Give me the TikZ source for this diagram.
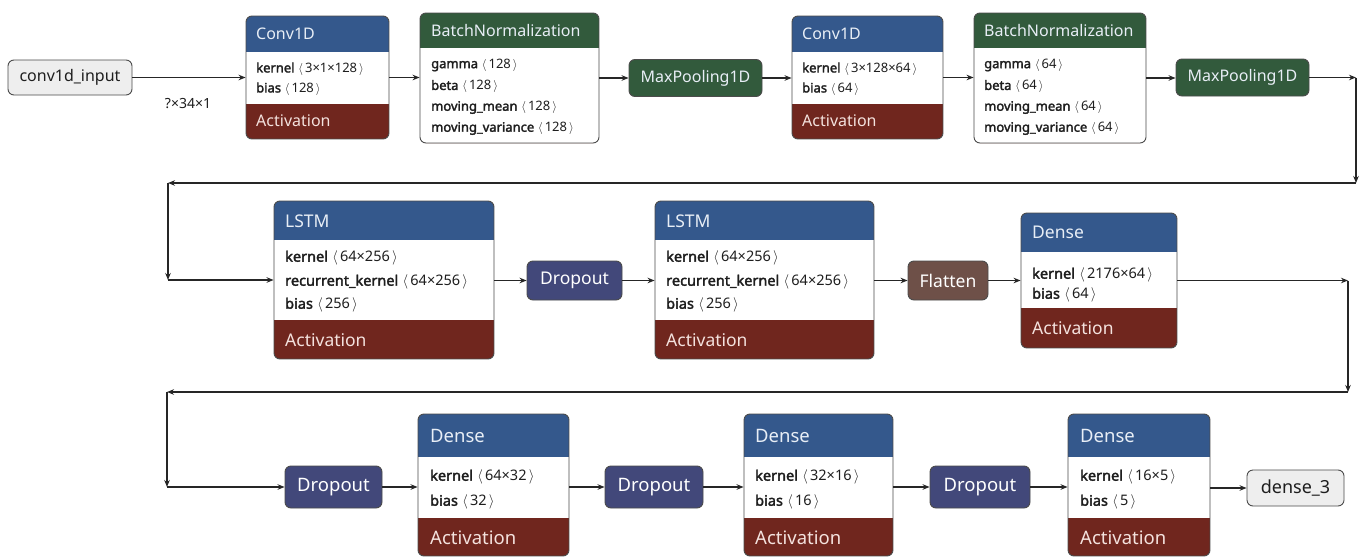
\documentclass[tikz,border=0pt]{standalone}
\usepackage{fontspec}
\setmainfont{Noto Sans}[AutoFakeBold=2.2]
\usetikzlibrary{arrows.meta,fit}
\definecolor{hblue}{RGB}{52,88,140}
\definecolor{hgreen}{RGB}{50,90,60}
\definecolor{actred}{RGB}{112,38,30}
\definecolor{dropc}{RGB}{66,72,122}
\definecolor{flatc}{RGB}{110,80,72}
\definecolor{iobg}{RGB}{238,238,238}
\definecolor{edgec}{RGB}{75,75,75}
\definecolor{htext}{RGB}{232,238,246}
\definecolor{atext}{RGB}{244,226,222}
\definecolor{btext}{RGB}{30,30,30}
\newcommand\myla{\hspace{0.3em}\ensuremath{\langle}\hspace{0.15em}}
\newcommand\myra{\hspace{0.15em}\ensuremath{\rangle}}
% #1 name, #2 x1, #3 y1, #4 x2, #5 y2, #6 header bottom, #7 activation top, #8 header colour
\newcommand\layerbox[8]{%
  \fill[white,rounded corners=6pt] (#2,#3) rectangle (#4,#5);
  \begin{scope}
    \clip[rounded corners=6pt] (#2,#3) rectangle (#4,#5);
    \fill[#8] (#2,#3) rectangle (#4,#6);
    \fill[actred] (#2,#7) rectangle (#4,#5);
  \end{scope}
  \node[fit={(#2,#3)(#4,#5)},inner sep=0pt,draw=edgec,line width=0.9pt,rounded corners=6pt] (#1) {};
}
\tikzset{
  t1/.style={anchor=west,inner sep=0pt,text=htext,font=\fontsize{16}{19}\selectfont},
  t2/.style={anchor=west,inner sep=0pt,text=htext,font=\fontsize{17.5}{21}\selectfont},
  t3/.style={anchor=west,inner sep=0pt,text=htext,font=\fontsize{18.5}{22}\selectfont},
  a1/.style={t1,text=atext},
  a2/.style={t2,text=atext},
  a3/.style={t3,text=atext},
  b1/.style={anchor=west,inner sep=0pt,text=btext,font=\fontsize{13}{15}\selectfont},
  b2/.style={anchor=west,inner sep=0pt,text=btext,font=\fontsize{14.5}{17}\selectfont},
  simple/.style={draw=edgec,line width=0.9pt,rounded corners=6pt,inner sep=0pt},
  mpool/.style={simple,fill=hgreen,text=htext,font=\fontsize{16}{19}\selectfont,minimum width=133pt,minimum height=37pt},
  drop/.style={simple,fill=dropc,text=white,font=\fontsize{17.5}{21}\selectfont},
  io/.style={simple,fill=iobg,text=btext},
  arr/.style={draw=black!85,line width=1.2pt,-{Stealth[length=7pt,width=5.5pt]}}
}
\begin{document}
\begin{tikzpicture}[x=1pt,y=-1pt]
\fill[white] (0,0) rectangle (1369,557);
\useasboundingbox (0,0) rectangle (1369,557);

% ---------- Row 1 ----------
\node[io,minimum width=124pt,minimum height=35pt,font=\fontsize{16}{19}\selectfont] (in) at (70,77.5) {conv1d\_input};
\node[inner sep=0pt,text=btext,font=\fontsize{14}{17}\selectfont] (shape) at (188,104) {?×34×1};

\layerbox{c1}{246}{16}{389}{139}{52}{104}{hblue}
\node[t1] (c1t) at (256,34) {Conv1D};
\node[b1] (c1k) at (256,69) {\textbf{kernel}\myla3×1×128\myra};
\node[b1] (c1b) at (256,89) {\textbf{bias}\myla128\myra};
\node[a1] (c1a) at (256,121) {Activation};

\layerbox{bn1}{420}{13}{599}{143}{48}{143}{hgreen}
\node[t1] (bn1t) at (431,30.5) {BatchNormalization};
\node[b1] (bn1g) at (431,65) {\textbf{gamma}\myla128\myra};
\node[b1] (bn1b) at (431,86.5) {\textbf{beta}\myla128\myra};
\node[b1] (bn1m) at (431,107.5) {\textbf{moving\_mean}\myla128\myra};
\node[b1] (bn1v) at (431,128.5) {\textbf{moving\_variance}\myla128\myra};

\node[mpool] (mp1) at (695.5,78) {MaxPooling1D};

\layerbox{c2}{792}{16}{943}{139}{52}{104}{hblue}
\node[t1] (c2t) at (802,34) {Conv1D};
\node[b1] (c2k) at (802,69) {\textbf{kernel}\myla3×128×64\myra};
\node[b1] (c2b) at (802,89) {\textbf{bias}\myla64\myra};
\node[a1] (c2a) at (802,121) {Activation};

\layerbox{bn2}{974}{13}{1146}{143}{48}{143}{hgreen}
\node[t1] (bn2t) at (984,30.5) {BatchNormalization};
\node[b1] (bn2g) at (984,65) {\textbf{gamma}\myla64\myra};
\node[b1] (bn2b) at (984,86.5) {\textbf{beta}\myla64\myra};
\node[b1] (bn2m) at (984,107.5) {\textbf{moving\_mean}\myla64\myra};
\node[b1] (bn2v) at (984,128.5) {\textbf{moving\_variance}\myla64\myra};

\node[mpool] (mp2) at (1242.5,77.5) {MaxPooling1D};

% ---------- Row 2 ----------
\layerbox{l1}{274}{201}{494}{359}{240}{320}{hblue}
\node[t2] (l1t) at (285,221) {LSTM};
\node[b2] (l1k) at (285,258) {\textbf{kernel}\myla64×256\myra};
\node[b2] (l1r) at (285,282) {\textbf{recurrent\_kernel}\myla64×256\myra};
\node[b2] (l1b) at (285,305) {\textbf{bias}\myla256\myra};
\node[a2] (l1a) at (285,340) {Activation};

\node[drop,minimum width=95pt,minimum height=39pt] (d1) at (574.5,280.5) {Dropout};

\layerbox{l2}{655}{201}{874}{359}{240}{320}{hblue}
\node[t2] (l2t) at (666,221) {LSTM};
\node[b2] (l2k) at (666,258) {\textbf{kernel}\myla64×256\myra};
\node[b2] (l2r) at (666,282) {\textbf{recurrent\_kernel}\myla64×256\myra};
\node[b2] (l2b) at (666,305) {\textbf{bias}\myla256\myra};
\node[a2] (l2a) at (666,340) {Activation};

\node[drop,fill=flatc,minimum width=80pt,minimum height=39pt] (fl) at (948,280.5) {Flatten};

\layerbox{de1}{1021}{213}{1177}{348}{252}{308}{hblue}
\node[t2] (de1t) at (1032,232) {Dense};
\node[b2] (de1k) at (1032,275) {\textbf{kernel}\myla2176×64\myra};
\node[b2] (de1b) at (1032,295) {\textbf{bias}\myla64\myra};
\node[a2] (de1a) at (1032,328) {Activation};

% ---------- Row 3 ----------
\node[drop,minimum width=97pt,minimum height=42pt,font=\fontsize{18.5}{22}\selectfont] (da) at (333.5,487) {Dropout};

\layerbox{de2}{418}{414}{569}{556}{457}{518}{hblue}
\node[t3] (de2t) at (430,436) {Dense};
\node[b2] (de2k) at (430,477) {\textbf{kernel}\myla64×32\myra};
\node[b2] (de2b) at (430,502) {\textbf{bias}\myla32\myra};
\node[a3] (de2a) at (430,538) {Activation};

\node[drop,minimum width=98pt,minimum height=42pt,font=\fontsize{18.5}{22}\selectfont] (db) at (654,487) {Dropout};

\layerbox{de3}{744}{414}{893}{556}{457}{518}{hblue}
\node[t3] (de3t) at (755,436) {Dense};
\node[b2] (de3k) at (755,477) {\textbf{kernel}\myla32×16\myra};
\node[b2] (de3b) at (755,502) {\textbf{bias}\myla16\myra};
\node[a3] (de3a) at (755,538) {Activation};

\node[drop,minimum width=100pt,minimum height=42pt,font=\fontsize{18.5}{22}\selectfont] (dc) at (980,487) {Dropout};

\layerbox{de4}{1068}{414}{1210}{556}{457}{518}{hblue}
\node[t3] (de4t) at (1080,436) {Dense};
\node[b2] (de4k) at (1080,477) {\textbf{kernel}\myla16×5\myra};
\node[b2] (de4b) at (1080,502) {\textbf{bias}\myla5\myra};
\node[a3] (de4a) at (1080,538) {Activation};

\node[io,minimum width=97pt,minimum height=36pt,font=\fontsize{18}{21}\selectfont] (out) at (1295.5,488) {dense\_3};

% ---------- connectors ----------
\draw[arr] (in.east) -- (c1.west |- in.east);
\draw[arr] (c1.east) -- (bn1.west |- c1.east);
\draw[arr] (bn1.east) -- (mp1.west |- bn1.east);
\draw[arr] (mp1.east) -- (c2.west |- mp1.east);
\draw[arr] (c2.east) -- (bn2.west |- c2.east);
\draw[arr] (bn2.east) -- (mp2.west |- bn2.east);

\coordinate (k1) at (1356,77.5);
\coordinate (k2) at (1356,183);
\coordinate (k3) at (168,183);
\coordinate (k4) at (168,280);
\draw[arr] (mp2.east) -- (k1);
\draw[arr] (k1) -- (k2);
\draw[arr] (k2) -- (k3);
\draw[arr] (k3) -- (k4);
\draw[arr] (k4) -- (l1.west |- k4);

\draw[arr] (l1.east |- d1.west) -- (d1.west);
\draw[arr] (d1.east) -- (l2.west |- d1.east);
\draw[arr] (l2.east |- fl.west) -- (fl.west);
\draw[arr] (fl.east) -- (de1.west |- fl.east);

\coordinate (k5) at (1348,280.5);
\coordinate (k6) at (1348,392);
\coordinate (k7) at (167,392);
\coordinate (k8) at (167,487);
\draw[arr] (de1.east) -- (k5);
\draw[arr] (k5) -- (k6);
\draw[arr] (k6) -- (k7);
\draw[arr] (k7) -- (k8);
\draw[arr] (k8) -- (da.west);

\draw[arr] (da.east) -- (de2.west |- da.east);
\draw[arr] (de2.east |- db.west) -- (db.west);
\draw[arr] (db.east) -- (de3.west |- db.east);
\draw[arr] (de3.east |- dc.west) -- (dc.west);
\draw[arr] (dc.east) -- (de4.west |- dc.east);
\draw[arr] (de4.east |- out.west) -- (out.west);
\end{tikzpicture}
\end{document}
